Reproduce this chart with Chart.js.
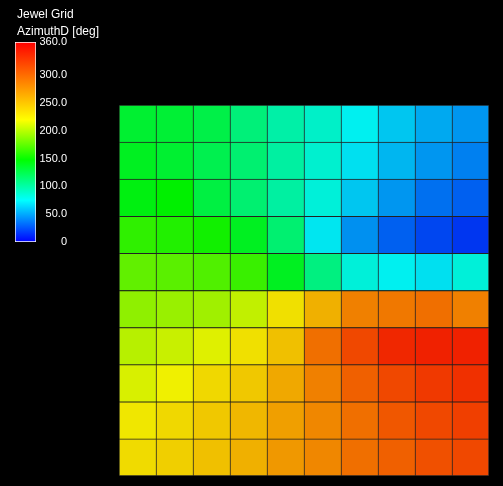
<!DOCTYPE html>
<html><head><meta charset="utf-8">
<script src="https://cdn.jsdelivr.net/npm/chart.js@4/dist/chart.umd.min.js"></script>
<style>
html,body{margin:0;padding:0;background:#000;width:503px;height:486px;overflow:hidden}
canvas{position:absolute;left:0;top:0}
#bar{top:30px}
.t{position:absolute;left:17px;color:#fff;font:12px "Liberation Sans",Arial,sans-serif;line-height:14px;white-space:nowrap}
</style></head><body>
<canvas id="main" width="503" height="486"></canvas>
<canvas id="bar" width="67" height="225"></canvas>
<div class="t" style="top:7px">Jewel Grid</div>
<div class="t" style="top:24px">AzimuthD [deg]</div>
<script>
// Grid columns (left to right) and rows (top to bottom)
const columns = ['1','2','3','4','5','6','7','8','9','10'];
const rowNames = ['1','2','3','4','5','6','7','8','9','10'];
// Azimuth values in degrees, one array per row, top row first
const row1  = [133, 132, 126, 111,  97,  87,  75,  62,  53,  47];
const row2  = [138, 133, 124, 114,  99,  85,  70,  57,  47,  40];
const row3  = [143, 148, 128, 114,  99,  82,  62,  47,  35,  30];
const row4  = [162, 158, 153, 138, 114,  72,  45,  30,  22,  17];
const row5  = [177, 175, 172, 165, 138, 109,  82,  75,  70,  82];
const row6  = [191, 194, 196, 206, 229, 257, 285, 290, 295, 285];
const row7  = [203, 208, 215, 229, 248, 295, 318, 337, 341, 341];
const row8  = [213, 220, 234, 243, 262, 285, 304, 318, 327, 332];
const row9  = [225, 234, 243, 253, 267, 281, 295, 309, 318, 323];
const row10 = [232, 239, 248, 257, 271, 281, 295, 304, 313, 318];
const gridRows = [row1,row2,row3,row4,row5,row6,row7,row8,row9,row10];
// Colour bar ticks
const legendTicks = [0, 50, 100, 150, 200, 250, 300, 360];
const valueMin = 0, valueMax = 360;

const stops = [[0,[0,0,255]],[75,[0,255,255]],[148,[0,255,0]],[220,[255,255,0]],[360,[255,0,0]]];
function rgbAt(v){
  v = Math.max(valueMin, Math.min(valueMax, v));
  for (let i=0;i<stops.length-1;i++){
    const [a,ca]=stops[i],[b,cb]=stops[i+1];
    if (v<=b){const t=(v-a)/(b-a);return ca.map((c,k)=>c+(cb[k]-c)*t);}
  }
  return stops[stops.length-1][1];
}
function cellColor(v){const c=rgbAt(v).map(x=>Math.round(x*0.94));return `rgb(${c[0]},${c[1]},${c[2]})`;}
function barColor(v){const c=rgbAt(v).map(x=>Math.round(x));return `rgb(${c[0]},${c[1]},${c[2]})`;}

// Stacked bars: bottom row first
const datasets = [];
for (let r = gridRows.length-1; r >= 0; r--){
  const vals = gridRows[r];
  const bottom = (r === gridRows.length-1);
  datasets.push({
    label: 'Row ' + rowNames[r],
    data: vals.map(()=>1),
    backgroundColor: vals.map(cellColor),
    borderColor: '#222222',
    borderWidth: ctx => ({left:1, top:1, right: ctx.dataIndex===columns.length-1?1:0, bottom: bottom?1:0}),
    borderSkipped: false,
    barPercentage: 1,
    categoryPercentage: 1
  });
}

new Chart(document.getElementById('main'), {
  type: 'bar',
  data: { labels: columns, datasets },
  options: {
    responsive:false, animation:false, devicePixelRatio:1,
    layout:{padding:{left:119,right:14,top:105,bottom:10}},
    scales:{
      x:{display:false, stacked:true},
      y:{display:false, stacked:true, min:0, max:rowNames.length}
    },
    plugins:{legend:{display:false}, tooltip:{enabled:false}}
  }
});

new Chart(document.getElementById('bar'), {
  type: 'bar',
  data: { labels: [''], datasets: [{
    data: [[valueMin, valueMax]],
    backgroundColor: (ctx) => {
      const ch = ctx.chart, area = ch.chartArea;
      if (!area) return '#fff';
      const ys = ch.scales.y;
      const g = ch.ctx.createLinearGradient(0, ys.getPixelForValue(valueMin), 0, ys.getPixelForValue(valueMax));
      stops.forEach(([v])=>g.addColorStop((v-valueMin)/(valueMax-valueMin), barColor(v)));
      return g;
    },
    borderColor:'#ffffff', borderWidth:1, borderSkipped:false,
    barPercentage:1, categoryPercentage:1
  }]},
  options: {
    responsive:false, animation:false, devicePixelRatio:1,
    layout:{padding:{left:15,right:0,top:12,bottom:13}},
    scales:{
      x:{display:false},
      y:{position:'right', min:valueMin, max:valueMax,
         afterFit: s => { s.width = 31; },
         afterBuildTicks: s => { s.ticks = legendTicks.map(v=>({value:v})); },
         grid:{display:false}, border:{display:false},
         ticks:{color:'#ffffff', padding:3, crossAlign:'far', autoSkip:false,
                font:{family:'"Liberation Sans", Arial, sans-serif', size:11},
                callback: v => v===0 ? '0' : Number(v).toFixed(1)}}
    },
    plugins:{legend:{display:false}, tooltip:{enabled:false}}
  }
});
</script>
</body></html>
